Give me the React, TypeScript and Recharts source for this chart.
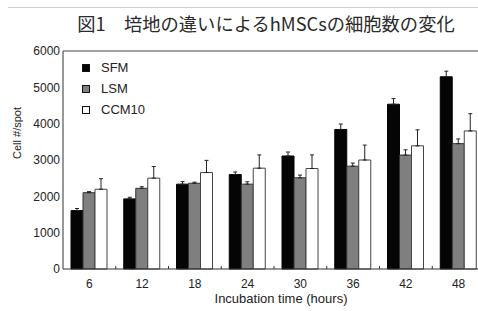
import React from 'react';
import { BarChart, Bar, XAxis, YAxis, ErrorBar, ReferenceLine, Legend, Label } from 'recharts';

// incubation time (hours)
const categories = ['6', '12', '18', '24', '30', '36', '42', '48'];

// cells per spot
const sfm = [1610, 1930, 2335, 2600, 3110, 3840, 4535, 5290];
const lsm = [2100, 2220, 2360, 2335, 2510, 2830, 3135, 3450];
const ccm10 = [2195, 2500, 2655, 2775, 2765, 3000, 3390, 3800];

// upper error only (SD)
const sfmErr = [55, 45, 70, 70, 110, 150, 155, 155];
const lsmErr = [30, 45, 30, 65, 75, 85, 145, 130];
const ccm10Err = [290, 320, 335, 365, 375, 410, 440, 475];

const yTicks = [0, 1000, 2000, 3000, 4000, 5000, 6000];

const series = [
    { key: 'SFM', err: 'sfmErr', fill: '#050505', stroke: '#050505' },
    { key: 'LSM', err: 'lsmErr', fill: '#7f7f7f', stroke: '#333333' },
    { key: 'CCM10', err: 'ccm10Err', fill: '#ffffff', stroke: '#444444' },
];

const data = categories.map((time, i) => ({
    time,
    SFM: sfm[i],
    LSM: lsm[i],
    CCM10: ccm10[i],
    sfmErr: [0, sfmErr[i]],
    lsmErr: [0, lsmErr[i]],
    ccm10Err: [0, ccm10Err[i]],
}));

const FONT = '"Liberation Sans", Arial, sans-serif';
const CHART_W = 500;
const PLOT_LEFT = 63;
const PLOT_RIGHT = 485;
const BAND = (PLOT_RIGHT - PLOT_LEFT) / categories.length;

const TimeTick = (props: any) => {
    const { x, y, payload } = props;
    return (
        <g>
            <text x={x} y={y + 19} textAnchor="middle" fontSize={12} fontFamily={FONT} fill="#222">
                {payload.value}
            </text>
            <line x1={x + BAND / 2} x2={x + BAND / 2} y1={y} y2={y - 3} stroke="#333" />
        </g>
    );
};

const LegendBox = () => (
    <div style={{ fontFamily: FONT, fontSize: 13, color: '#222' }}>
        {series.map((s) => (
            <div key={s.key} style={{ display: 'flex', alignItems: 'center', height: 21 }}>
                <span
                    style={{
                        display: 'inline-block',
                        width: 6,
                        height: 6,
                        background: s.fill,
                        border: '1px solid #111',
                        marginRight: 11,
                    }}
                />
                {s.key}
            </div>
        ))}
    </div>
);

export default function App() {
    return (
        <div
            style={{
                position: 'absolute',
                left: 0,
                top: 0,
                width: 478,
                height: 311,
                overflow: 'hidden',
                background: '#fff',
            }}
        >
            <div style={{ position: 'absolute', left: 8, right: 0, top: 7, borderTop: '1px solid #d0d0d0' }} />
            <div
                style={{
                    position: 'absolute',
                    left: 0,
                    width: 532,
                    top: 10,
                    textAlign: 'center',
                    fontFamily: '"Noto Sans CJK JP", sans-serif',
                    fontSize: 18.3,
                    lineHeight: '26px',
                    color: '#2a2a2a',
                    whiteSpace: 'nowrap',
                }}
            >
                図1　培地の違いによるhMSCsの細胞数の変化
            </div>
            <div style={{ position: 'absolute', left: 0, top: 0 }}>
                <BarChart
                    width={CHART_W}
                    height={311}
                    data={data}
                    margin={{ top: 51, right: CHART_W - PLOT_RIGHT, left: 0, bottom: 0 }}
                    barGap={0}
                    barSize={12}
                >
                    <XAxis
                        dataKey="time"
                        height={42}
                        tickLine={false}
                        tickSize={0}
                        tickMargin={0}
                        tick={<TimeTick />}
                        axisLine={{ stroke: '#333' }}
                        interval={0}
                    >
                        <Label
                            content={() => (
                                <text x={281} y={303} textAnchor="middle" fontSize={13} fontFamily={FONT} fill="#222">
                                    Incubation time (hours)
                                </text>
                            )}
                        />
                    </XAxis>
                    <YAxis
                        width={PLOT_LEFT}
                        domain={[0, 6000]}
                        ticks={yTicks}
                        tickLine={false}
                        tickSize={0}
                        tickMargin={3}
                        axisLine={{ stroke: '#333' }}
                        tick={{ fontSize: 12, fontFamily: FONT, fill: '#222' }}
                    >
                        <Label
                            content={() => (
                                <text
                                    x={17}
                                    y={133}
                                    transform="rotate(-90 17 133)"
                                    textAnchor="middle"
                                    dominantBaseline="central"
                                    fontSize={11}
                                    fontFamily={FONT}
                                    fill="#222"
                                >
                                    Cell #/spot
                                </text>
                            )}
                        />
                    </YAxis>
                    <ReferenceLine y={6000} stroke="#444" />
                    <Legend
                        layout="vertical"
                        verticalAlign="middle"
                        align="center"
                        content={<LegendBox />}
                        wrapperStyle={{ left: 82, top: 57, width: 100 }}
                    />
                    {series.map((s) => (
                        <Bar
                            key={s.key}
                            dataKey={s.key}
                            fill={s.fill}
                            stroke={s.stroke}
                            strokeWidth={1}
                            isAnimationActive={false}
                        >
                            <ErrorBar dataKey={s.err} direction="y" width={2} stroke="#222" strokeWidth={1} />
                        </Bar>
                    ))}
                </BarChart>
            </div>
        </div>
    );
}
